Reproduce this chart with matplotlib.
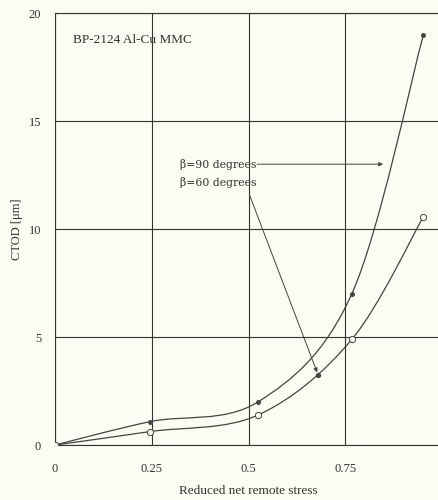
import numpy as np
import matplotlib.pyplot as plt
from matplotlib.path import Path
from matplotlib.patches import PathPatch

plt.rcParams['font.family'] = ['Liberation Serif', 'DejaVu Serif']

# reduced net remote stress vs CTOD
stress_90 = [0.0, 0.245, 0.525, 0.767, 0.952]
ctod_90 = [0.0, 1.08, 2.0, 7.0, 19.0]
stress_60 = [0.0, 0.245, 0.525, 0.767, 0.952]
ctod_60 = [0.0, 0.62, 1.39, 4.89, 10.57]

x_ticks = [0, 0.25, 0.5, 0.75, 1.0]
x_ticklabels = ['0', '0.25', '0.5', '0.75', '']
y_ticks = [0, 5, 10, 15, 20]

ink = '#444444'
paper = '#fbfcf2'


def smooth_path(x, y):
    # Catmull-Rom through the points, written as cubic Bezier segments
    pts = np.column_stack([x, y])
    ext = np.vstack([pts[0], pts, pts[-1]])
    verts = [pts[0]]
    codes = [Path.MOVETO]
    for i in range(1, len(ext) - 2):
        p0, p1, p2, p3 = ext[i - 1], ext[i], ext[i + 1], ext[i + 2]
        verts += [p1 + (p2 - p0) / 6, p2 - (p3 - p1) / 6, p2]
        codes += [Path.CURVE4] * 3
    return Path(verts, codes)


fig = plt.figure(figsize=(4.39, 5.0), dpi=100, facecolor=paper)
ax = fig.add_axes([55 / 439, 55 / 500, 387 / 439, 432 / 500])
ax.set_facecolor(paper)

for xs, ys, face in [(stress_90, ctod_90, ink), (stress_60, ctod_60, paper)]:
    ax.add_patch(PathPatch(smooth_path(xs, ys), facecolor='none',
                           edgecolor=ink, lw=0.9))
    ax.plot(xs, ys, ls='none', marker='o', ms=4.5 if face == paper else 2.8,
            mfc=face, mec=ink, mew=0.7, zorder=3)

ax.set_xlim(0, 1)
ax.set_ylim(0, 20)
ax.set_xticks(x_ticks)
ax.set_xticklabels(x_ticklabels)
ax.set_yticks(y_ticks)
ax.grid(True, color='#333333', lw=0.8)
ax.set_axisbelow(True)
for side in ['left', 'bottom', 'top']:
    ax.spines[side].set_color('#333333')
    ax.spines[side].set_linewidth(0.8)
ax.spines['right'].set_visible(False)
ax.tick_params(length=0, labelsize=9, colors='#333333')
ax.tick_params(axis='y', pad=10)
ax.tick_params(axis='x', pad=13)

ax.set_ylabel('CTOD [\u03bcm]', fontsize=9, color='#333333', labelpad=4)
ax.set_xlabel('Reduced net remote stress', fontsize=9.5, color='#333333',
              labelpad=7)

ax.text(0.047, 18.75, 'BP-2124 Al-Cu MMC', fontsize=9.5, color='#333333',
        va='center')

ax.text(0.322, 13.0, '\u03b2=90 degrees', fontsize=7.8, color='#333333',
        va='center', family=['DejaVu Serif'])
ax.text(0.322, 12.17, '\u03b2=60 degrees', fontsize=7.8, color='#333333',
        va='center', family=['DejaVu Serif'])
ax.annotate('', xy=(0.855, 13.0), xytext=(0.515, 13.0),
            arrowprops=dict(arrowstyle='-|>', color=ink, lw=0.7,
                            mutation_scale=6))
ax.annotate('', xy=(0.68, 3.24), xytext=(0.5, 11.7),
            arrowprops=dict(arrowstyle='-|>', color=ink, lw=0.7,
                            mutation_scale=6))
ax.plot([0.68], [3.24], ls='none', marker='o', ms=2.8, color=ink, zorder=3)

fig.savefig('out.png', dpi=100, facecolor=paper)
